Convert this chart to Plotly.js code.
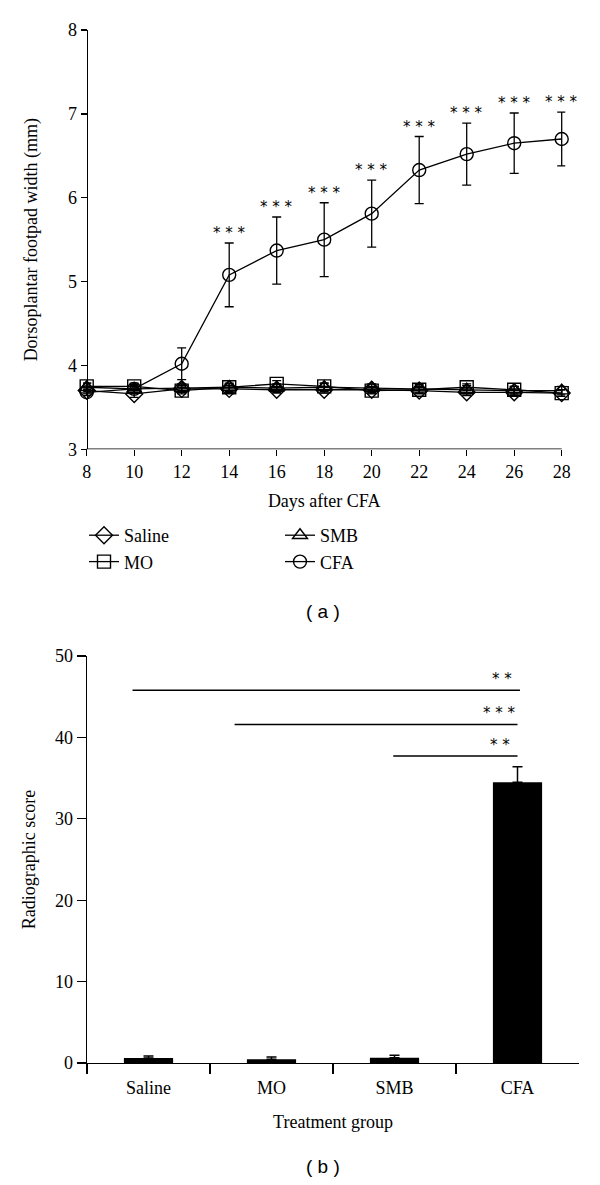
<!DOCTYPE html>
<html>
<head>
<meta charset="utf-8">
<script src="https://cdn.plot.ly/plotly-3.0.1.min.js"></script>
<style>html,body{margin:0;padding:0;background:#fff;}#chart{width:600px;height:1185px;}</style>
</head>
<body>
<div id="chart"></div>
<script>
// ---- Panel (a): footpad width over time ----
const days = [8, 10, 12, 14, 16, 18, 20, 22, 24, 26, 28];
const salineWidth = [3.70, 3.66, 3.72, 3.72, 3.71, 3.71, 3.71, 3.70, 3.68, 3.68, 3.67];
const salineErr   = [0.04, 0.04, 0.04, 0.04, 0.04, 0.04, 0.04, 0.04, 0.04, 0.04, 0.04];
const moWidth     = [3.75, 3.75, 3.70, 3.74, 3.78, 3.75, 3.70, 3.71, 3.74, 3.71, 3.67];
const moErr       = [0.04, 0.04, 0.04, 0.04, 0.04, 0.04, 0.04, 0.04, 0.04, 0.04, 0.04];
const smbWidth    = [3.74, 3.72, 3.73, 3.74, 3.73, 3.74, 3.73, 3.72, 3.71, 3.70, 3.70];
const smbErr      = [0.05, 0.05, 0.05, 0.05, 0.05, 0.05, 0.05, 0.05, 0.05, 0.05, 0.05];
const cfaWidth    = [3.68, 3.72, 4.02, 5.08, 5.37, 5.50, 5.81, 6.33, 6.52, 6.65, 6.70];
const cfaErr      = [0.04, 0.04, 0.19, 0.38, 0.40, 0.44, 0.40, 0.40, 0.37, 0.36, 0.32];
const cfaSig      = ['', '', '', '* * *', '* * *', '* * *', '* * *', '* * *', '* * *', '* * *', '* * *'];

// ---- Panel (b): radiographic score ----
const groups = ['Saline', 'MO', 'SMB', 'CFA'];
const radioScore = [0.6, 0.45, 0.65, 34.5];
const radioErr   = [0.25, 0.3, 0.3, 1.9];
const sigStart = [-0.13, 0.70, 1.99];
const sigEnd   = [3.02, 3.00, 3.00];
const sigY     = [45.8, 41.6, 37.7];
const sigLabel = ['* *', '* * *', '* *'];

const SERIF = 'Liberation Serif, Times New Roman, serif';
const SANS = 'Liberation Sans, Arial, sans-serif';
const STAR = 'DejaVu Sans, sans-serif';

function lineTrace(name, y, err, symbol, legendId) {
  return {
    type: 'scatter', mode: 'lines+markers', name: name,
    x: days, y: y, xaxis: 'x', yaxis: 'y', legend: legendId,
    cliponaxis: false,
    line: {color: '#000', width: 1.3},
    marker: {symbol: symbol, size: 13, color: '#000', line: {color: '#000', width: 1.4}},
    error_y: {type: 'data', array: err, visible: true, color: '#000', thickness: 1.3, width: 4.5}
  };
}

const traces = [
  lineTrace('Saline', salineWidth, salineErr, 'diamond-open', 'legend'),
  lineTrace('MO', moWidth, moErr, 'square-open', 'legend'),
  lineTrace('SMB', smbWidth, smbErr, 'triangle-up-open', 'legend2'),
  lineTrace('CFA', cfaWidth, cfaErr, 'circle-open', 'legend2'),
  {
    type: 'bar', x: groups, y: radioScore, xaxis: 'x2', yaxis: 'y2', showlegend: false,
    width: 0.4, marker: {color: '#000', line: {width: 0}},
    error_y: {type: 'data', symmetric: false, array: radioErr, arrayminus: radioErr.map(() => 0),
              visible: true, color: '#000', thickness: 1.5, width: 5}
  }
];

const annotations = [];
days.forEach((d, i) => {
  if (cfaSig[i]) {
    annotations.push({
      xref: 'x', yref: 'y', x: d, y: cfaWidth[i] + cfaErr[i], text: cfaSig[i],
      showarrow: false, xanchor: 'center', yanchor: 'bottom', yshift: -1,
      font: {family: STAR, size: 15, color: '#000'}
    });
  }
});
const shapes = [
  // x-axis baseline of panel (a), spanning the day range only
  {type: 'line', xref: 'x', yref: 'y', x0: days[0], x1: days[days.length - 1], y0: 3, y1: 3,
   line: {color: '#000', width: 1.4}}
];
sigY.forEach((yv, i) => {
  shapes.push({type: 'line', xref: 'x2', yref: 'y2', x0: sigStart[i], x1: sigEnd[i], y0: yv, y1: yv,
               line: {color: '#000', width: 1.5}});
  annotations.push({
    xref: 'x2', yref: 'y2', x: sigEnd[i], y: yv, text: sigLabel[i], showarrow: false,
    xanchor: 'center', xshift: -18, yanchor: 'bottom', yshift: 0,
    font: {family: STAR, size: 15, color: '#000'}
  });
});
annotations.push({xref: 'paper', yref: 'paper', x: 323 / 600, y: 1 - 611 / 1185, text: '( a )',
  showarrow: false, xanchor: 'center', yanchor: 'middle', font: {family: SANS, size: 19, color: '#000'}});
annotations.push({xref: 'paper', yref: 'paper', x: 323 / 600, y: 1 - 1166 / 1185, text: '( b )',
  showarrow: false, xanchor: 'center', yanchor: 'middle', font: {family: SANS, size: 19, color: '#000'}});

const axisCommon = {
  showgrid: false, zeroline: false, showline: true, linecolor: '#000', linewidth: 1.4,
  ticks: 'outside', tickcolor: '#000', tickwidth: 1.4,
  tickfont: {family: SERIF, size: 18, color: '#000'}
};

const legendCommon = {
  orientation: 'v', xanchor: 'left', yanchor: 'top', itemwidth: 30, tracegroupgap: 0,
  font: {family: SERIF, size: 18, color: '#000'}, bgcolor: 'rgba(0,0,0,0)', borderwidth: 0
};

const layout = {
  width: 600, height: 1185,
  margin: {l: 0, r: 0, t: 0, b: 0},
  paper_bgcolor: '#fff', plot_bgcolor: '#fff',
  font: {family: SERIF, size: 18, color: '#000'},
  showlegend: true,
  legend: Object.assign({}, legendCommon, {x: 84 / 600, y: 1 - 517 / 1185}),
  legend2: Object.assign({}, legendCommon, {x: 280 / 600, y: 1 - 517 / 1185}),
  xaxis: Object.assign({}, axisCommon, {
    domain: [83.14 / 600, 565.26 / 600], range: [7.85, 28.15], dtick: 2, tick0: 8, ticklen: 6,
    anchor: 'y', showline: false,
    title: {text: 'Days after CFA', font: {family: SERIF, size: 18, color: '#000'}, standoff: 13}
  }),
  yaxis: Object.assign({}, axisCommon, {
    domain: [1 - 449.3 / 1185, 1 - 30 / 1185], range: [3, 8], dtick: 1, ticklen: 6,
    anchor: 'free', position: 86.7 / 600,
    title: {text: 'Dorsoplantar footpad width (mm)', font: {family: SERIF, size: 18, color: '#000'}, standoff: 24}
  }),
  xaxis2: Object.assign({}, axisCommon, {
    domain: [87 / 600, 579 / 600], type: 'category', range: [-0.5, 3.5], anchor: 'y2',
    tickson: 'boundaries', ticklen: 10, ticklabelstandoff: 8,
    title: {text: 'Treatment group', font: {family: SERIF, size: 18, color: '#000'}, standoff: 18}
  }),
  yaxis2: Object.assign({}, axisCommon, {
    domain: [1 - 1063 / 1185, 1 - 656 / 1185], range: [0, 50], dtick: 10, ticklen: 9, anchor: 'x2',
    title: {text: 'Radiographic score', font: {family: SERIF, size: 18, color: '#000'}, standoff: 14}
  }),
  annotations: annotations,
  shapes: shapes
};

Plotly.newPlot('chart', traces, layout, {displayModeBar: false, staticPlot: true});
</script>
</body>
</html>
